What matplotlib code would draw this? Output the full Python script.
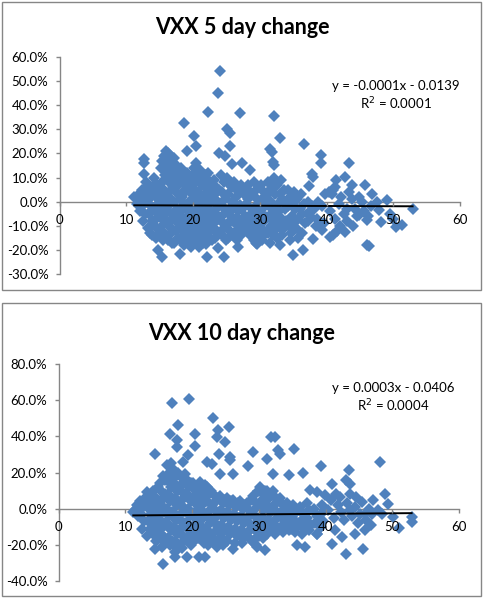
import numpy as np
import matplotlib
matplotlib.use("Agg")
import matplotlib.pyplot as plt
from matplotlib.patches import Rectangle
from matplotlib.ticker import FuncFormatter, MultipleLocator

plt.rcParams['font.family'] = ['Lato', 'DejaVu Sans']

# ---------------- VXX 5 day change (x = VIX level, y = % change) ----------
core_5d = [
    (11.2, 2), (11.6, -1), (11.9, 3), (12.0, -4), (11.8, 0.5),
    (12.3, 5), (12.6, 2), (12.4, -2), (12.8, -5), (12.5, -8), (12.9, 0), (12.2, -1), (12.9, 8),
    (13.2, 7), (13.6, 4), (13.3, 1), (13.7, -2), (13.4, -5), (13.8, -8), (13.3, -11), (13.6, -13), (13.9, 6),
    (14.2, 10), (14.6, 7), (14.3, 4), (14.8, 1), (14.4, -2), (14.7, -5), (14.2, -8), (14.6, -11), (14.9, -14), (14.4, -15),
    (15.2, 14), (15.6, 19), (15.4, 17), (15.8, 11), (15.3, 8), (15.7, 5), (15.2, 2), (15.6, -1), (15.3, -4),
    (15.8, -7), (15.4, -10), (15.7, -13), (15.5, -16), (15.9, 21),
    (16.2, 20), (16.6, 17), (16.3, 14), (16.8, 11), (16.4, 8), (16.7, 5), (16.2, 2), (16.6, -1), (16.3, -4),
    (16.8, -7), (16.4, -10), (16.7, -13), (16.2, -16), (16.9, -17),
    (17.1, 18), (17.5, 15), (17.3, 12), (17.8, 9), (17.4, 6), (17.7, 3), (17.2, 0), (17.6, -3), (17.3, -6),
    (17.8, -9), (17.4, -12), (17.7, -15), (17.2, -17),
    (18.2, 14), (18.6, 11), (18.3, 8), (18.8, 5), (18.4, 2), (18.7, -1), (18.2, -4), (18.6, -7), (18.3, -10),
    (18.8, -13), (18.4, -16), (18.7, -18),
    (19.1, 12), (19.5, 9), (19.3, 6), (19.8, 3), (19.4, 0), (19.7, -3), (19.2, -6), (19.6, -9), (19.3, -12),
    (19.8, -15), (19.5, -17),
    (20.2, 14), (20.6, 11), (20.3, 8), (20.8, 4), (20.4, 1), (20.7, -2), (20.2, -5), (20.6, -8), (20.3, -11),
    (20.8, -14), (20.4, -17), (20.9, -19),
    (21.1, 13), (21.5, 10), (21.3, 7), (21.8, 3), (21.4, 0), (21.7, -3), (21.2, -6), (21.6, -9), (21.3, -12),
    (21.8, -15), (21.5, -17),
    (22.2, 12), (22.6, 8), (22.3, 5), (22.8, 2), (22.4, -1), (22.7, -4), (22.2, -7), (22.6, -10), (22.3, -13), (22.8, -16),
    (23.1, 9), (23.5, 6), (23.3, 3), (23.8, 0), (23.4, -3), (23.7, -6), (23.2, -9), (23.6, -12), (23.3, -15),
    (24.2, 11), (24.6, 8), (24.3, 4), (24.8, 1), (24.4, -2), (24.7, -5), (24.2, -8), (24.6, -11), (24.3, -14),
    (25.1, 10), (25.5, 7), (25.3, 3), (25.8, 0), (25.4, -3), (25.7, -6), (25.2, -9), (25.6, -12), (25.3, -15),
    (26.2, 8), (26.6, 5), (26.5, 2), (26.3, -1), (26.8, -4), (26.4, -7), (26.7, -10), (26.2, -13), (26.6, -16),
    (27.2, 7), (27.6, 3), (27.3, -3), (27.8, -6), (27.4, -9), (27.7, -12), (27.2, -14),
    (28.2, 7), (28.6, 4), (28.3, 1), (28.8, -3), (28.4, -6), (28.7, -9), (28.2, -12), (28.6, -14),
    (29.1, 8), (29.5, 5), (29.3, 2), (29.8, -1), (29.4, -4), (29.7, -8), (29.2, -11), (29.6, -14), (29.4, -17),
    (30.2, 7), (30.6, 4), (30.3, 1), (30.8, -2), (30.4, -5), (30.7, -8), (30.2, -11), (30.6, -14), (30.4, -16),
    (31.2, 8), (31.6, 5), (31.3, 1), (31.8, -3), (31.4, -6), (31.7, -10), (31.2, -13), (31.6, -17),
    (32.2, 10), (32.6, 7), (32.3, 3), (32.8, -1), (32.4, -5), (32.7, -9), (32.2, -12), (32.6, -15),
    (33.2, 9), (33.6, 5), (33.3, 1), (33.8, -3), (33.4, -7), (33.7, -11), (33.3, -14),
    (34.2, 5), (34.6, 2), (34.3, -2), (34.8, -6), (34.4, -10), (34.7, -13), (34.5, -16),
    (35.2, 4), (35.6, 1), (35.3, -3), (35.8, -7), (35.4, -11), (35.7, -15),
    (36.2, 3), (36.6, -1), (36.3, -5), (36.8, -9), (36.4, -13),
    (37.2, 0), (37.6, -4), (37.3, -8), (37.8, -2), (37.5, -6),
    (38.2, -3), (38.6, -7), (38.4, -10), (38.8, 0),
    (39.3, -2), (39.6, -9), (39.8, 3),
    (40.5, -4), (41.2, -7), (41.8, -1), (42.2, 2), (42.6, -5), (43.0, -3), (43.4, 4), (43.8, 1),
    (44.2, -3), (44.6, -6), (44.9, 2), (45.3, 0), (45.6, -4), (46.2, -6), (46.6, -2),
    (44.0, -10), (43.0, -8), (42.0, -10), (41.5, -12),
]
fill_5d = [
    (13.9, 2.5), (13.9, -3.5), (14.0, -9.5), (14.9, 5.5), (14.9, -0.5), (15.0, -6.5), (15.0, -12),
    (15.9, 15), (15.9, 9.5), (16.0, 3.5), (15.9, -2.5), (16.0, -8.5), (16.0, -14.5),
    (16.9, 18.5), (16.9, 12.5), (17.0, 6.5), (16.9, 0.5), (17.0, -5.5), (16.9, -11.5),
    (17.9, 13.5), (17.9, 7.5), (18.0, 1), (17.9, -5), (18.0, -11), (18.0, -15.5),
    (18.9, 10), (19.0, 4.5), (18.9, -2.5), (19.0, -8.5), (18.9, -14.5),
    (19.9, 10.5), (20.0, 5.5), (19.9, -0.5), (20.0, -6.5), (19.9, -12.5), (20.0, -17.5),
    (20.9, 9), (21.0, 2), (20.9, -4), (21.0, -10), (20.9, -16),
    (21.9, 11), (22.0, 6), (21.9, 0.5), (22.0, -5.5), (21.9, -11.5), (22.0, -17.5),
    (22.9, 7), (23.0, 0.5), (22.9, -6), (23.0, -11.5), (23.9, 5), (24.0, -1), (23.9, -7), (24.0, -13),
    (24.9, 9), (25.0, 2.5), (24.9, -3.5), (25.0, -9.5), (24.9, -16),
    (25.9, 6), (26.0, -2.5), (25.9, -8), (26.0, -13.5), (26.9, 4), (27.0, -1.5), (26.9, -7.5), (27.0, -13),
    (27.9, 5.5), (28.0, -1), (27.9, -7.5), (28.0, -10.5), (28.9, 3), (29.0, -5.5), (28.9, -12.5),
    (29.9, 6), (30.0, -3.5), (29.9, -9.5), (30.0, -15), (30.9, 2.5), (31.0, -6.5), (30.9, -12.5),
    (31.9, 6), (32.0, -1), (31.9, -7.5), (32.0, -14), (33.0, 3), (32.9, -4), (33.0, -10.5),
    (34.0, 0), (33.9, -8), (35.0, -1), (34.9, -9), (36.0, -3),
]
outliers_5d = [
    (24.0, 54.4), (23.7, 45.1), (22.3, 37.3), (27.0, 36.9), (32.2, 35.7), (18.7, 32.8), (20.2, 27.4),
    (25.1, 30.2), (25.6, 28.5), (33.0, 26.6), (36.6, 24.1), (20.5, 23.0), (25.5, 23.2), (19.1, 21.0),
    (23.9, 20.2), (24.8, 18.8), (31.5, 22.0), (31.8, 20.6), (32.0, 16.5), (32.1, 15.1), (39.2, 19.2),
    (39.2, 16.2), (43.3, 16.0), (12.6, 17.8), (12.7, 16.0), (12.6, 11.6), (20.5, 16.0), (25.8, 15.5),
    (27.4, 16.0), (28.6, 13.0), (37.8, 11.6), (38.0, 10.2), (37.4, 6.5), (42.8, 10.2), (41.4, 8.9),
    (40.3, 4.0), (40.8, 3.3), (41.0, 4.7), (41.3, 6.1), (43.8, 6.8), (45.8, 6.8), (46.8, 3.3),
    (49.0, 0.6), (47.5, -0.1), (47.8, -3.6), (49.5, -5.0), (50.0, -7.1), (50.4, -10.5), (51.3, -9.8),
    (52.9, -3.0), (48.2, -8.4), (46.0, -7.7), (44.8, -5.7), (46.0, -17.8), (46.3, -18.5), (42.8, -12.6),
    (40.5, -14.7), (41.0, -14.0), (39.3, -11.9), (38.0, -15.4), (36.5, -20.2), (35.0, -22.3),
    (33.0, -18.1), (29.1, -16.0), (29.6, -17.4), (26.8, -18.8), (24.6, -23.0), (23.8, -19.1),
    (22.1, -23.0), (19.7, -18.8), (18.1, -21.6), (15.3, -23.0), (14.7, -20.2), (13.8, -14.0), (11.6, 1.9),
]
slope_5d, icpt_5d = -0.0001, -0.0139
eq_5d = ["y = -0.0001x - 0.0139", "R$^2$ = 0.0001"]

# ---------------- VXX 10 day change ----------------
core_10d = [
    (11.2, -2), (11.6, 0), (11.9, -4), (11.7, 2),
    (12.2, 4), (12.6, 1), (12.3, -3), (12.8, -7), (12.5, -11), (12.9, 6),
    (13.2, 9), (13.6, 5), (13.3, 1), (13.8, -3), (13.4, -7), (13.7, -11), (13.3, -15),
    (14.2, 10), (14.6, 6), (14.3, 2), (14.8, -2), (14.4, -6), (14.7, -10), (14.2, -14), (14.6, -18),
    (15.2, 14), (15.6, 18), (15.3, 10), (15.8, 6), (15.4, 2), (15.7, -2), (15.2, -6), (15.6, -10),
    (15.3, -14), (15.8, -18), (15.5, -21),
    (16.2, 24), (16.6, 20), (16.3, 16), (16.8, 12), (16.4, 8), (16.7, 4), (16.2, 0), (16.6, -4),
    (16.3, -8), (16.8, -12), (16.4, -16), (16.7, -20), (16.9, 25),
    (17.2, 22), (17.6, 18), (17.3, 14), (17.8, 10), (17.4, 6), (17.7, 2), (17.2, -2), (17.6, -6),
    (17.3, -10), (17.8, -14), (17.4, -18), (17.7, -22), (17.5, -24),
    (18.2, 18), (18.6, 14), (18.3, 10), (18.8, 6), (18.4, 2), (18.7, -2), (18.2, -6), (18.6, -10),
    (18.3, -14), (18.8, -18), (18.5, -22),
    (19.2, 16), (19.6, 12), (19.3, 8), (19.8, 4), (19.4, 0), (19.7, -4), (19.2, -8), (19.6, -12),
    (19.3, -16), (19.8, -20),
    (20.2, 14), (20.6, 10), (20.3, 6), (20.8, 2), (20.4, -2), (20.7, -6), (20.2, -10), (20.6, -14), (20.3, -18),
    (21.2, 15), (21.6, 11), (21.3, 7), (21.8, 3), (21.4, -1), (21.7, -5), (21.2, -9), (21.6, -13),
    (21.3, -17), (21.8, -19),
    (22.2, 12), (22.6, 8), (22.3, 4), (22.8, 0), (22.4, -4), (22.7, -8), (22.2, -12), (22.6, -16), (22.4, -20),
    (23.2, 8), (23.6, 4), (23.3, 0), (23.8, -4), (23.4, -8), (23.7, -12), (23.2, -16), (23.6, -19),
    (24.2, 7), (24.6, 3), (24.3, -1), (24.8, -5), (24.4, -9), (24.7, -13), (24.2, -17), (24.6, -20),
    (25.2, 6), (25.6, 2), (25.3, -2), (25.8, -6), (25.4, -10), (25.7, -14), (25.3, -18),
    (26.2, 5), (26.6, 1), (26.3, -3), (26.8, -7), (26.4, -11), (26.7, -15), (26.5, -19),
    (27.2, 4), (27.6, 0), (27.3, -4), (27.8, -8), (27.4, -12), (27.7, -16), (27.5, -19),
    (28.2, 3), (28.6, -1), (28.3, -5), (28.8, -9), (28.4, -13), (28.7, -17),
    (29.2, 7), (29.6, 3), (29.3, -1), (29.8, -5), (29.4, -9), (29.7, -13), (29.5, -17), (29.6, -20),
    (30.2, 12), (30.6, 8), (30.3, 4), (30.8, 0), (30.4, -4), (30.7, -8), (30.2, -12), (30.6, -16),
    (31.2, 10), (31.6, 6), (31.3, 2), (31.8, -2), (31.4, -6), (31.7, -10), (31.3, -14),
    (32.2, 10), (32.6, 6), (32.3, 2), (32.8, -2), (32.4, -6), (32.7, -10), (32.5, -14),
    (33.2, 6), (33.6, 2), (33.3, -2), (33.8, -6), (33.4, -10), (33.7, -13),
    (34.2, 3), (34.6, -1), (34.3, -5), (34.8, -9), (34.5, -12),
    (35.2, 2), (35.6, -2), (35.3, -6), (35.8, -10), (35.5, -13),
    (36.2, 1), (36.6, -3), (36.3, -7), (36.8, -11), (36.5, -14),
    (37.2, 3), (37.6, -1), (37.3, -5), (37.8, -9), (37.5, -12),
    (38.3, 0), (38.7, -4), (38.4, -8), (38.8, -14),
    (39.3, -3), (39.7, -7), (39.5, 2),
    (40.4, -1), (40.8, 5), (41.3, -5), (41.8, 2), (42.3, -2), (42.8, -6), (43.2, 3), (43.6, -1),
    (44.0, -4), (44.4, 1), (44.8, -8), (45.2, -3), (46.5, 0), (47.0, -3), (47.8, -1), (46.8, -9),
]
fill_10d = [
    (13.9, 7), (14.0, 0), (13.9, -8), (14.0, -13), (14.9, 12), (15.0, 4), (14.9, -4), (15.0, -12), (14.9, -17),
    (15.9, 16), (16.0, 8), (15.9, 0), (16.0, -8), (15.9, -16), (16.9, 20), (17.0, 14), (16.9, 6),
    (17.0, -2), (16.9, -10), (17.0, -18), (17.9, 20), (18.0, 12), (17.9, 4), (18.0, -4), (17.9, -12),
    (18.0, -20), (18.9, 16), (19.0, 8), (18.9, 0), (19.0, -8), (18.9, -16), (19.9, 14), (20.0, 6),
    (19.9, -2), (20.0, -10), (19.9, -17), (20.9, 12), (21.0, 4), (20.9, -4), (21.0, -12), (20.9, -16),
    (21.9, 13), (22.0, 5), (21.9, -3), (22.0, -11), (21.9, -17), (22.9, 10), (23.0, 2), (22.9, -6),
    (23.0, -14), (23.9, 6), (24.0, -2), (23.9, -10), (24.0, -17), (24.9, 5), (25.0, -3), (24.9, -11),
    (25.0, -18), (25.9, 4), (26.0, -4), (25.9, -12), (26.9, 3), (27.0, -5), (26.9, -13), (27.9, 2),
    (28.0, -6), (27.9, -14), (28.9, 5), (29.0, -3), (28.9, -11), (29.0, -18), (29.9, 10), (30.0, 2),
    (29.9, -7), (30.0, -15), (30.9, 10), (31.0, 2), (30.9, -6), (31.0, -12), (31.9, 8), (32.0, 0),
    (31.9, -8), (32.0, -12), (32.9, 4), (33.0, -4), (32.9, -11), (34.0, 0), (33.9, -8), (35.0, -4),
    (34.9, -11), (36.0, -1), (35.9, -8), (37.0, -3), (36.9, -9),
]
outliers_10d = [
    (17.0, 58.7), (19.6, 60.9), (23.2, 50.4), (17.9, 46.2), (25.6, 45.2), (23.9, 43.4), (23.7, 39.7),
    (16.7, 41.2), (17.8, 37.8), (20.5, 41.5), (20.4, 34.7), (17.7, 34.2), (24.9, 36.6), (14.5, 30.5),
    (19.4, 29.5), (24.1, 30.1), (29.2, 31.4), (31.2, 27.7), (31.9, 39.7), (32.4, 39.7), (32.9, 32.3),
    (33.2, 30.1), (35.3, 33.2), (28.4, 23.6), (22.2, 25.8), (23.0, 24.6), (18.6, 26.0), (19.0, 19.4),
    (25.7, 28.6), (25.7, 26.8), (24.2, 19.4), (26.2, 19.0), (32.2, 19.4), (34.6, 18.5), (36.7, 19.9),
    (39.3, 23.6), (43.5, 21.6), (48.1, 25.7), (43.1, 15.7), (43.6, 13.8), (41.0, 13.5), (37.7, 10.2),
    (38.7, 9.2), (39.9, 7.4), (41.6, 8.3), (42.1, 6.5), (43.6, 8.3), (44.6, 6.5), (45.4, 3.7),
    (47.1, 4.6), (48.9, 8.3), (49.4, 2.4), (50.1, -4.6), (51.0, -10.5), (52.9, -4.6), (52.9, -7.4),
    (48.5, -2.8), (45.9, -2.8), (46.1, -6.5), (45.9, -12.0), (45.6, -22.2), (44.4, -13.8), (43.1, -24.9),
    (42.4, -15.7), (40.9, -19.4), (41.4, -12.0), (39.4, -10.2), (38.7, -13.8), (36.9, -21.2),
    (35.7, -20.3), (30.9, -23.1), (29.7, -21.2), (26.2, -22.2), (23.7, -21.2), (21.9, -26.8),
    (21.0, -26.8), (19.2, -26.8), (17.5, -26.8), (15.7, -30.5), (14.5, -22.2),
]
slope_10d, icpt_10d = 0.0003, -0.0406
eq_10d = ["y = 0.0003x - 0.0406", "R$^2$ = 0.0004"]

BLUE = '#4F81BD'
GRAY = '#868686'

fig = plt.figure(figsize=(4.84, 5.98), dpi=100)
fig.patch.set_facecolor('white')

# chart frames (pixels -> figure fraction)
W, H = 484.0, 598.0
for (x0, y0, x1, y1) in [(2, 2, 481, 290), (2, 303, 481, 596)]:
    fig.patches.append(Rectangle((x0 / W, 1 - y1 / H), (x1 - x0) / W, (y1 - y0) / H,
                                 transform=fig.transFigure, fill=False,
                                 edgecolor=GRAY, linewidth=1.0))


def panel(rect, pts, outs, slope, icpt, ylim, ystep, title, eq, title_y, eq_xy):
    ax = fig.add_axes(rect)
    data = np.array(pts + outs)
    ax.plot(data[:, 0], data[:, 1], linestyle='none', marker='D', ms=6.6,
            color=BLUE, markeredgewidth=0, zorder=3)
    xs = np.array([data[:, 0].min(), data[:, 0].max()])
    ax.plot(xs, (slope * xs + icpt) * 100, color='black', lw=1.4, zorder=4)

    ax.set_xlim(0, 60)
    ax.set_ylim(*ylim)
    ax.xaxis.set_major_locator(MultipleLocator(10))
    ax.yaxis.set_major_locator(MultipleLocator(ystep))
    ax.yaxis.set_major_formatter(FuncFormatter(lambda v, p: f"{v:.1f}%"))
    for s in ['top', 'right']:
        ax.spines[s].set_visible(False)
    ax.spines['bottom'].set_position(('data', 0))
    for s in ['left', 'bottom']:
        ax.spines[s].set_color(GRAY)
        ax.spines[s].set_linewidth(1.0)
        ax.spines[s].set_zorder(2)
    ax.tick_params(axis='both', direction='out', length=3, width=1.0,
                   color=GRAY, labelsize=9.5, labelcolor='black')
    ax.tick_params(axis='y', pad=5)
    ax.tick_params(axis='x', pad=6)
    ax.xaxis.set_zorder(5)   # x labels sit on top of the points, as in Excel
    ax.set_facecolor('none')

    fig.text(0.5, 1 - title_y / H, title, ha='center', va='center',
             fontsize=15.5, fontweight='bold')
    ax.text(eq_xy[0], eq_xy[1], eq[0] + "\n" + eq[1], transform=ax.transAxes,
            ha='center', va='center', fontsize=9.5, linespacing=1.3)
    return ax


panel([59.5 / W, 1 - 274 / H, 400.5 / W, 217 / H], core_5d + fill_5d, outliers_5d,
      slope_5d, icpt_5d, (-30, 60), 10, "VXX 5 day change", eq_5d, 27, (0.84, 0.82))
panel([58.5 / W, 1 - 581 / H, 400.5 / W, 217 / H], core_10d + fill_10d, outliers_10d,
      slope_10d, icpt_10d, (-40, 80), 20, "VXX 10 day change", eq_10d, 334, (0.835, 0.843))

fig.savefig("out.png", dpi=100)
